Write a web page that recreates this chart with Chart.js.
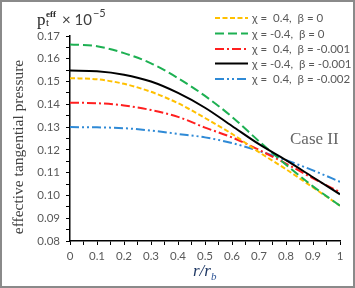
<!DOCTYPE html>
<html>
<head>
<meta charset="utf-8">
<script src="https://cdn.jsdelivr.net/npm/chart.js@4.4.1/dist/chart.umd.min.js"></script>
<style>
  html, body { margin: 0; padding: 0; background: #fff; }
  canvas { display: block; }
</style>
</head>
<body>
<canvas id="chart" width="355" height="288"></canvas>
<script>
// r / r_b sample points
const rValues = [0, 0.1, 0.2, 0.3, 0.4, 0.5, 0.6, 0.7, 0.8, 0.9, 1.0];

// effective tangential pressure (x 1e-5)
const chiPos_b0     = [0.1515, 0.151, 0.149, 0.1455, 0.1405, 0.134, 0.127, 0.119, 0.1115, 0.1035, 0.0955];
const chiNeg_b0     = [0.1663, 0.1655, 0.1625, 0.158, 0.1515, 0.1437, 0.1345, 0.1238, 0.1135, 0.104, 0.0955];
const chiPos_b001   = [0.1407, 0.1405, 0.1395, 0.1375, 0.1345, 0.1298, 0.1255, 0.12, 0.114, 0.1075, 0.1015];
const chiNeg_b001   = [0.1548, 0.1545, 0.153, 0.150, 0.145, 0.1385, 0.1305, 0.1225, 0.1155, 0.108, 0.1005];
const chiPos_b002   = [0.1300, 0.1299, 0.1295, 0.1285, 0.127, 0.1255, 0.123, 0.1195, 0.1155, 0.111, 0.106];

const seriesLabels = [
  "χ =  0.4,  β = 0",
  "χ = -0.4,  β = 0",
  "χ =  0.4,  β = -0.001",
  "χ = -0.4,  β = -0.001",
  "χ =  0.4,  β = -0.002"
];

const xTickLabels = ["0", "0.1", "0.2", "0.3", "0.4", "0.5", "0.6", "0.7", "0.8", "0.9", "1"];

const styles = [
  { color: "#FFC000", dash: [5, 2.5] },
  { color: "#1DB052", dash: [9, 4] },
  { color: "#FF1F1F", dash: [9, 3, 2, 3] },
  { color: "#000000", dash: [] },
  { color: "#2F8AD6", dash: [9, 3, 2, 3, 2, 3] }
];

const allSeries = [chiPos_b0, chiNeg_b0, chiPos_b001, chiNeg_b001, chiPos_b002];

const datasets = allSeries.map((vals, i) => ({
  label: seriesLabels[i],
  data: vals.map((v, j) => ({ x: rValues[j], y: v })),
  borderColor: styles[i].color,
  borderDash: styles[i].dash,
  borderWidth: 2,
  pointRadius: 0,
  showLine: true,
  fill: false,
  cubicInterpolationMode: "monotone"
}));

// black drawn on top, blue at the bottom
const drawOrder = [4, 2, 0, 1, 3];
drawOrder.forEach((idx, k) => { datasets[idx].order = 5 - k; });

const TEXT_GRAY = "#595959";
const SANS = "Lato, 'Open Sans', sans-serif";

const decorations = {
  id: "decorations",
  afterDraw(chart) {
    const ctx = chart.ctx;
    ctx.save();

    // outer frame
    ctx.strokeStyle = "#8a8a8a";
    ctx.lineWidth = 2;
    ctx.setLineDash([]);
    ctx.strokeRect(1, 1, 353, 286);

    // legend
    const rows = [18, 33.5, 49, 63.5, 79];
    datasets.forEach((ds, i) => {
      ctx.beginPath();
      ctx.strokeStyle = ds.borderColor;
      ctx.lineWidth = 2;
      ctx.setLineDash(ds.borderDash);
      ctx.moveTo(215, rows[i]);
      ctx.lineTo(248, rows[i]);
      ctx.stroke();
      ctx.setLineDash([]);
      ctx.fillStyle = TEXT_GRAY;
      ctx.font = "11.5px " + SANS;
      ctx.textBaseline = "middle";
      ctx.textAlign = "left";
      ctx.fillText(ds.label, 252, rows[i] + 0.5);
    });

    // "Case II"
    ctx.fillStyle = "#666666";
    ctx.font = "17px 'Liberation Serif', serif";
    ctx.textBaseline = "alphabetic";
    ctx.fillText("Case II", 290, 144);

    // y axis title
    ctx.save();
    ctx.translate(19, 147);
    ctx.rotate(-Math.PI / 2);
    ctx.fillStyle = "#404040";
    ctx.font = "15.5px 'Liberation Serif', serif";
    ctx.textAlign = "center";
    ctx.textBaseline = "middle";
    ctx.fillText("effective tangential pressure", 0, 0);
    ctx.restore();

    // top-left unit label  p_t^eff x 10^-5
    ctx.fillStyle = "#262626";
    ctx.textAlign = "left";
    ctx.textBaseline = "alphabetic";
    ctx.font = "17px 'Liberation Serif', serif";
    ctx.fillText("p", 37, 25);
    ctx.font = "11px 'Liberation Serif', serif";
    ctx.fillText("t", 46, 26);
    ctx.font = "bold 9px 'Liberation Serif', serif";
    ctx.fillText("eff", 46, 17);
    ctx.fillStyle = "#404040";
    ctx.font = "15px " + SANS;
    ctx.fillText("× 10", 62, 25);
    let px = 62 + ctx.measureText("× 10").width + 1;
    ctx.font = "11px " + SANS;
    ctx.fillText("−5", px, 17);

    // x axis title r/r_b
    ctx.fillStyle = "#1F3864";
    ctx.font = "italic 17px 'Liberation Serif', serif";
    ctx.fillText("r/r", 193, 276);
    px = 193 + ctx.measureText("r/r").width;
    ctx.font = "italic 11px 'Liberation Serif', serif";
    ctx.fillStyle = "#2E5597";
    ctx.fillText("b", px, 280);

    ctx.restore();
  }
};

function xLabel(v) {
  const k = Math.round(v * 100);
  if (k % 10 !== 0) return "";
  return xTickLabels[k / 10];
}

function yLabel(v) {
  const k = Math.round(v * 1000);
  if (k % 10 !== 0) return "";
  return (k / 1000).toFixed(2);
}

new Chart(document.getElementById("chart").getContext("2d"), {
  type: "scatter",
  data: { datasets },
  plugins: [decorations],
  options: {
    responsive: false,
    animation: false,
    devicePixelRatio: 1,
    layout: { padding: { top: 36, right: 15, left: 0, bottom: 0 } },
    plugins: { legend: { display: false }, tooltip: { enabled: false } },
    scales: {
      x: {
        type: "linear",
        min: 0,
        max: 1,
        afterFit(scale) { scale.height = 47; },
        border: { display: true, color: "#000", width: 1.5 },
        grid: { drawOnChartArea: false, drawTicks: true, tickLength: 4, tickColor: "#000", tickWidth: 1 },
        ticks: {
          stepSize: 0.05,
          autoSkip: false,
          maxRotation: 0,
          padding: 4,
          color: TEXT_GRAY,
          font: { family: SANS, size: 11.5 },
          callback: xLabel
        }
      },
      y: {
        type: "linear",
        min: 0.08,
        max: 0.17,
        afterFit(scale) { scale.width = 70; },
        border: { display: true, color: "#000", width: 1.5 },
        grid: { drawOnChartArea: false, drawTicks: true, tickLength: 4, tickColor: "#000", tickWidth: 1 },
        ticks: {
          stepSize: 0.005,
          autoSkip: false,
          padding: 6,
          color: TEXT_GRAY,
          font: { family: SANS, size: 11.5 },
          callback: yLabel
        }
      }
    }
  }
});
</script>
</body>
</html>
